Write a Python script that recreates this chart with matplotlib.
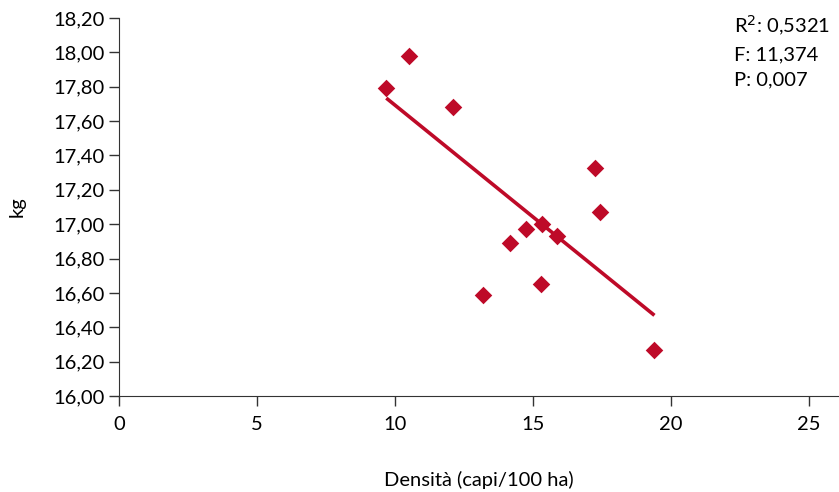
import numpy as np
import matplotlib.pyplot as plt
from matplotlib.ticker import FuncFormatter

# dati
densita = [9.69, 10.52, 12.12, 13.21, 14.19, 14.77, 15.35, 15.31, 15.86, 17.27, 17.45, 19.41]
peso = [17.79, 17.98, 17.68, 16.59, 16.89, 16.97, 17.00, 16.65, 16.93, 17.33, 17.07, 16.27]
stats = ["R$^2$: 0,5321", "F: 11,374", "P: 0,007"]
xticks = [0, 5, 10, 15, 20, 25]
yticks = np.arange(16.0, 18.21, 0.2)

rosso = '#BE0A28'
plt.rcParams['font.family'] = ['Lato', 'DejaVu Sans']
plt.rcParams['font.size'] = 11

fig = plt.figure(figsize=(8.39, 4.92), dpi=100)
ax = fig.add_axes([0.1418, 0.195, 0.8582, 0.7684])

ax.scatter(densita, peso, marker='D', s=80, color=rosso, zorder=3, linewidths=0)

# retta di regressione
k, q = np.polyfit(densita, peso, 1)
xx = np.array([min(densita), max(densita)])
ax.plot(xx, k * xx + q, color=rosso, lw=2.6, solid_capstyle='butt', zorder=2)

ax.set_xlim(0, 26.1)
ax.set_ylim(16.0, 18.2)
ax.set_xticks(xticks)
ax.set_yticks(yticks)
ax.yaxis.set_major_formatter(FuncFormatter(lambda v, p: f"{v:.2f}".replace('.', ',')))

for s in ['top', 'right']:
    ax.spines[s].set_visible(False)
ax.spines['left'].set_color('#333333')
ax.spines['bottom'].set_color('#333333')
ax.tick_params(axis='both', direction='out', length=7, width=1, color='#333333', labelsize=14.5)
ax.tick_params(axis='x', pad=7)

ax.set_xlabel("Densità (capi/100 ha)", fontsize=14.5, labelpad=28)
ax.set_ylabel("kg", fontsize=14.5, labelpad=20)

fig.text(0.875, 0.972, "\n".join(stats), fontsize=14.5, va='top', ha='left', linespacing=1.6)

fig.savefig('out.png', dpi=100)
